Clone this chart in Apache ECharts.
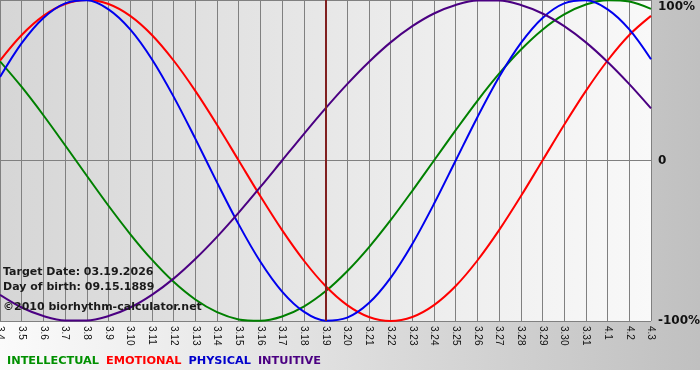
<!DOCTYPE html>
<html>
<head>
<meta charset="utf-8">
<script src="https://cdn.jsdelivr.net/npm/echarts@6/dist/echarts.min.js"></script>
<style>html,body{margin:0;padding:0;background:#fff}#c{width:700px;height:380px}</style>
</head>
<body>
<div id="c"></div>
<script>
var dates = ['3.4','3.5','3.6','3.7','3.8','3.9','3.10','3.11','3.12','3.13','3.14','3.15','3.16','3.17','3.18','3.19','3.20','3.21','3.22','3.23','3.24','3.25','3.26','3.27','3.28','3.29','3.30','3.31','4.1','4.2','4.3'];
var intellectual = [61.8,45.8,28.2,9.5,-9.5,-28.2,-45.8,-61.8,-75.6,-86.6,-94.5,-99.0,-99.9,-97.2,-91.0,-81.5,-69.0,-54.1,-37.2,-18.9,0,18.9,37.2,54.1,69.0,81.5,91.0,97.2,99.9,99.0,94.5];
var emotional = [62.3,78.2,90.1,97.5,100,97.5,90.1,78.2,62.3,43.4,22.3,0,-22.3,-43.4,-62.3,-78.2,-90.1,-97.5,-100,-97.5,-90.1,-78.2,-62.3,-43.4,-22.3,0,22.3,43.4,62.3,78.2,90.1];
var physical = [52.0,73.1,88.8,97.9,99.8,94.2,81.7,63.1,39.8,13.6,-13.6,-39.8,-63.1,-81.7,-94.2,-99.8,-97.9,-88.8,-73.1,-52.0,-27.0,0,27.0,52.0,73.1,88.8,97.9,99.8,94.2,81.7,63.1];
var intuitive = [-83.7,-91.6,-96.9,-99.7,-99.7,-96.9,-91.6,-83.7,-73.6,-61.4,-47.6,-32.5,-16.5,0,16.5,32.5,47.6,61.4,73.6,83.7,91.6,96.9,99.7,99.7,96.9,91.6,83.7,73.6,61.4,47.6,32.5];
var targetDay = '3.19';
var yTickLabels = {'100':'100%','0':'0','-100':'-100%'};
var seriesNames = ['INTELLECTUAL','EMOTIONAL','PHYSICAL','INTUITIVE'];
var infoLines = ['Target Date: 03.19.2026','Day of birth: 09.15.1889'];
var copyright = '\u00a92010 biorhythm-calculator.net';

var colors = ['#008000','#ff0000','#0000ee','#4b0082'];
var legendColors = ['#009000','#ff0000','#0000cc','#4b0082'];
var dataSets = [intellectual, emotional, physical, intuitive];

var chart = echarts.init(document.getElementById('c'), null, {renderer:'canvas'});
var series = dataSets.map(function(d, i){
  var s = {
    name: seriesNames[i], type:'line', data:d, smooth:0.33, symbol:'none',
    lineStyle:{color:colors[i], width:2}, itemStyle:{color:colors[i]}
  };
  if (i === 0) {
    s.markLine = {
      silent:true, symbol:['none','none'], label:{show:false},
      lineStyle:{color:'#802020', width:2, type:'solid'},
      data:[{xAxis: targetDay}]
    };
  }
  return s;
});

chart.setOption({
  animation:false,
  backgroundColor:{type:'linear',x:0,y:0,x2:1,y2:0,colorStops:[{offset:0,color:'#fbfbfb'},{offset:1,color:'#c0c0c0'}]},
  graphic:[{type:'rect', left:0, top:370, shape:{width:700,height:10}, style:{fill:'#ffffff'}, z:-10, silent:true}],
  title:[
    {text: infoLines.join('\n'), left:3, top:265, padding:0,
     textStyle:{fontFamily:'DejaVu Sans', fontWeight:'bold', fontSize:11, color:'#1a1a1a', lineHeight:14.5}},
    {text: copyright, left:3, top:300, padding:0,
     textStyle:{fontFamily:'DejaVu Sans', fontWeight:'bold', fontSize:11, color:'#1a1a1a', lineHeight:14}}
  ],
  legend:{
    left:2, top:356, padding:0, icon:'none', itemWidth:0, itemHeight:10, itemGap:2,
    selectedMode:false,
    data: seriesNames.map(function(n,i){return {name:n, textStyle:{color:legendColors[i]}};}),
    textStyle:{fontFamily:'DejaVu Sans', fontWeight:'bold', fontSize:11.3}
  },
  grid:{left:0, top:0, width:651, height:321, show:true, borderWidth:0, containLabel:false, outerBoundsMode:'none',
    backgroundColor:{type:'linear',x:0,y:0,x2:1,y2:0,colorStops:[{offset:0,color:'#d6d6d6'},{offset:1,color:'#f9f9f9'}]}},
  xAxis:{
    type:'category', data:dates, boundaryGap:false,
    axisLine:{show:true, lineStyle:{color:'#808080', width:1}},
    axisTick:{show:true, length:4, interval:0, lineStyle:{color:'#808080'}},
    axisLabel:{interval:0, rotate:-90, margin:5, fontFamily:'Liberation Sans', fontSize:10, color:'#111'},
    splitLine:{show:true, interval:0, lineStyle:{color:'#808080', width:1}}
  },
  yAxis:{
    type:'value', min:-100, max:100, interval:100, position:'right',
    axisLine:{show:false}, axisTick:{show:false},
    axisLabel:{margin:7, fontFamily:'DejaVu Sans', fontWeight:'bold', fontSize:12, color:'#111',
      formatter:function(v){ var t = yTickLabels[String(v)]; return v === 100 ? '{top|'+t+'}' : t; },
      rich:{top:{fontFamily:'DejaVu Sans', fontWeight:'bold', fontSize:12, color:'#111', padding:[13,0,0,0]}}},
    splitLine:{show:true, lineStyle:{color:'#808080', width:1}}
  },
  series: series
});
</script>
</body>
</html>
